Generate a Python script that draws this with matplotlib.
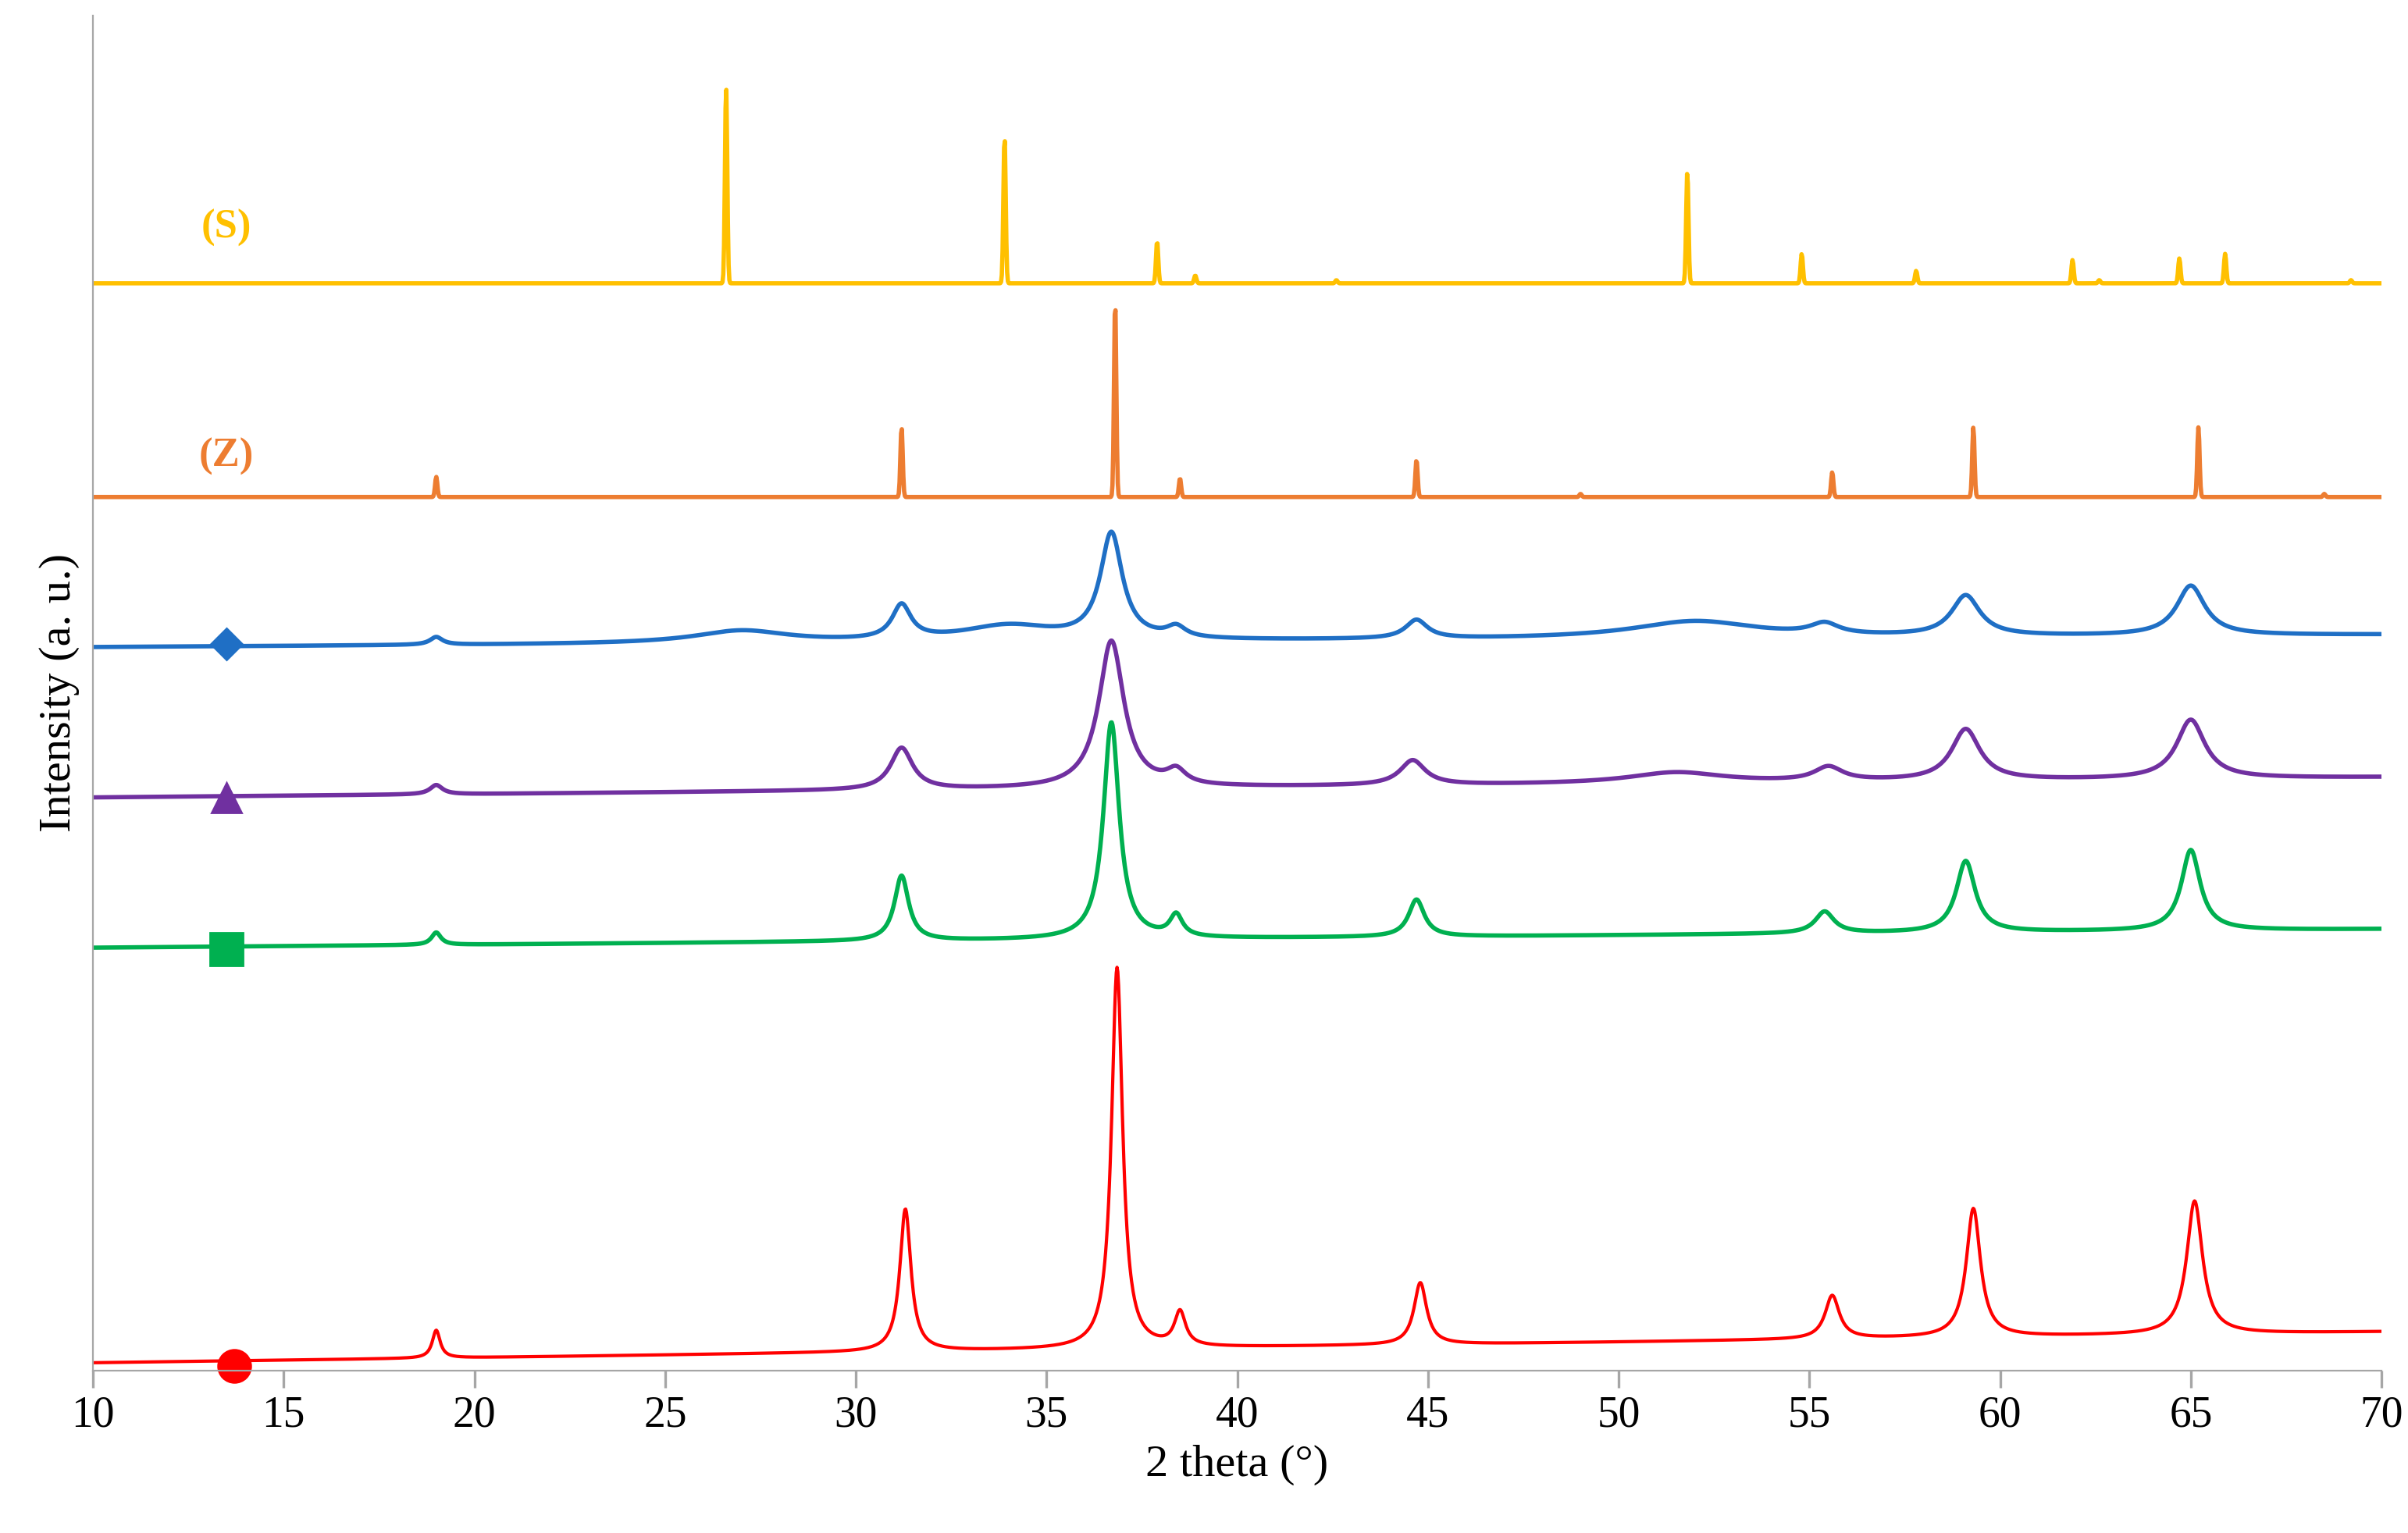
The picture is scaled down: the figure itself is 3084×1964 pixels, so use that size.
import matplotlib
matplotlib.use('Agg')
import matplotlib.pyplot as plt
import numpy as np

plt.rcParams['font.family'] = ['Liberation Serif', 'DejaVu Serif']

# measured patterns: baseline at 10 and 70 deg, then peaks (position, height, fwhm)
red_base = [5, 25]
red_peaks = [(19.0, 18, 0.25), (31.3, 92, 0.35), (36.85, 246, 0.35), (38.5, 22, 0.35),
             (44.8, 40, 0.4), (55.6, 28, 0.45), (59.3, 83, 0.45), (65.1, 86, 0.5)]
green_base = [273, 285]
green_peaks = [(19.0, 8, 0.3), (31.2, 42, 0.45), (36.7, 140, 0.5), (38.4, 14, 0.4),
               (44.7, 24, 0.5), (55.4, 14, 0.6), (59.1, 46, 0.6), (65.0, 52, 0.6)]
purple_base = [370, 383]
purple_peaks = [(19.0, 6, 0.4), (31.2, 27, 0.7), (36.7, 95, 0.8), (38.4, 9, 0.6),
                (44.6, 16, 0.8), (51.5, 7, 3.0), (55.5, 9, 0.9), (59.1, 33, 0.9), (65.0, 38, 0.9)]
blue_base = [467, 475]
blue_peaks = [(19.0, 5, 0.4), (27.0, 8, 3.0), (31.2, 22, 0.6), (34.0, 10, 3.0), (36.7, 68, 0.7),
              (38.4, 7, 0.6), (44.7, 12, 0.7), (52.0, 11, 4.0), (55.4, 7, 0.9),
              (59.1, 26, 0.9), (65.0, 32, 0.9)]

# reference sticks
z_base = 564
z_pos = [19.0, 31.2, 36.8, 38.5, 44.7, 49.0, 55.6, 59.3, 65.2, 68.5]
z_hgt = [13, 45, 126, 12, 24, 2, 16, 45, 45, 2]
s_base = 702
s_pos = [26.6, 33.9, 37.9, 38.9, 42.6, 51.8, 54.8, 57.8, 61.9, 62.6, 64.7, 65.9, 69.2]
s_hgt = [127, 95, 27, 5, 2, 72, 19, 8, 15, 2, 16, 19, 2]

x = np.linspace(10, 70, 3000)


def pattern(base, peaks):
    y = base[0] + (base[1] - base[0]) * (x - 10) / 60
    for p, h, w in peaks:
        y = y + h / (1 + ((x - p) / (w / 2)) ** 2)
    return y


def sticks(base, pos, hgt):
    y = np.full_like(x, float(base))
    for p, h in zip(pos, hgt):
        y = y + h * np.exp(-0.5 * ((x - p) / 0.03) ** 2)
    return y


fig = plt.figure(figsize=(15.42, 9.82), dpi=200)
ax = fig.add_axes([0.0386, 0.106, 0.9504, 0.884])

ax.plot(x, pattern(red_base, red_peaks), color='#FF0000', lw=1.5)
ax.plot(x, pattern(green_base, green_peaks), color='#00B050', lw=2)
ax.plot(x, pattern(purple_base, purple_peaks), color='#7030A0', lw=2)
ax.plot(x, pattern(blue_base, blue_peaks), color='#1F6FC5', lw=2)
ax.plot(x, sticks(z_base, z_pos, z_hgt), color='#ED7D31', lw=2)
ax.plot(x, sticks(s_base, s_pos, s_hgt), color='#FFC000', lw=2)

ax.plot(13.7, 3, 'o', color='#FF0000', ms=15, clip_on=False)
ax.plot(13.5, 272, 's', color='#00B050', ms=15)
ax.plot(13.5, 370, '^', color='#7030A0', ms=14)
ax.plot(13.5, 469, 'D', color='#1F6FC5', ms=10)
ax.text(13.5, 590, '(Z)', color='#ED7D31', fontsize=19, fontweight='bold', ha='center', va='center')
ax.text(13.5, 738, '(S)', color='#FFC000', fontsize=19, fontweight='bold', ha='center', va='center')

ax.set_xlim(10, 70)
ax.set_ylim(0, 875)
ax.set_xticks(np.arange(10, 71, 5))
ax.set_yticks([])
for s in ['top', 'right']:
    ax.spines[s].set_visible(False)
ax.spines['left'].set_color('#A6A6A6')
ax.spines['bottom'].set_color('#A6A6A6')
ax.tick_params(axis='x', colors='#A6A6A6', labelcolor='black', labelsize=20, length=8, width=1.2)
ax.set_xlabel('2 theta (°)', fontsize=21)
ax.set_ylabel('Intensity (a. u.)', fontsize=21, labelpad=6)

fig.savefig('out.png')
